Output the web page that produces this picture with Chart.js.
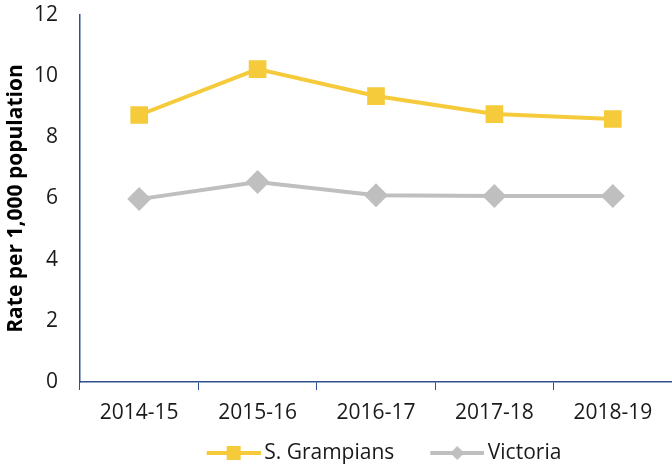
<!DOCTYPE html>
<html>
<head>
<meta charset="utf-8">
<script src="https://cdn.jsdelivr.net/npm/chart.js@4"></script>
<style>
  html, body { margin: 0; padding: 0; background: #fff; }
  .wrap { width: 672px; height: 466px; }
</style>
</head>
<body>
<div class="wrap"><canvas id="rateChart" width="672" height="466"></canvas></div>
<script>
const years = ['2014-15', '2015-16', '2016-17', '2017-18', '2018-19'];
const grampians = [8.73, 10.23, 9.35, 8.76, 8.6];
const victoria = [5.98, 6.54, 6.11, 6.08, 6.08];
const yTicks = [0, 2, 4, 6, 8, 10, 12];

const yellow = '#F5CB3B';
const grey = '#BFBFBF';
const axisBlue = '#2F528F';

// line + marker picture for the legend (drawn on the right part of the canvas)
const iconW = 77;
function legendIcon(color, shape) {
    const c = document.createElement('canvas');
    c.width = iconW; c.height = 20;
    const g = c.getContext('2d');
    g.strokeStyle = color;
    g.lineWidth = 4;
    g.beginPath(); g.moveTo(iconW - 54, 10); g.lineTo(iconW, 10); g.stroke();
    g.fillStyle = color;
    const cx = iconW - 27;
    if (shape === 'square') {
        g.fillRect(cx - 7, 3, 14, 14);
    } else {
        g.beginPath();
        g.moveTo(cx, 3); g.lineTo(cx + 7, 10); g.lineTo(cx, 17); g.lineTo(cx - 7, 10);
        g.closePath(); g.fill();
    }
    return c;
}
const icons = [legendIcon(yellow, 'square'), legendIcon(grey, 'diamond')];

const ctx = document.getElementById('rateChart').getContext('2d');
const rateChart = new Chart(ctx, {
    type: 'line',
    data: {
        labels: years,
        datasets: [{
            label: 'S. Grampians',
            data: grampians,
            borderColor: yellow,
            backgroundColor: yellow,
            borderWidth: 4,
            pointStyle: 'rect',
            pointRadius: 12.5,
            pointBorderWidth: 0,
            tension: 0
        }, {
            label: 'Victoria',
            data: victoria,
            borderColor: grey,
            backgroundColor: grey,
            borderWidth: 4,
            pointStyle: 'rectRot',
            pointRadius: 12,
            pointBorderWidth: 0,
            tension: 0
        }]
    },
    options: {
        responsive: false,
        animation: false,
        layout: { autoPadding: false, padding: { top: 0, right: 0, left: 0, bottom: -7.5 } },
        scales: {
            x: {
                offset: true,
                grid: { display: true, drawOnChartArea: false, color: axisBlue, tickLength: 8, offset: true },
                border: { color: axisBlue, width: 1.5 },
                ticks: { color: '#1a1a1a', font: { family: 'Open Sans', size: 21 }, padding: 10 },
                afterFit: s => { s.height = 40.5; }
            },
            y: {
                min: 0,
                max: 12,
                afterBuildTicks: s => { s.ticks = yTicks.map(v => ({ value: v })); },
                grid: { display: false },
                border: { color: axisBlue, width: 1.5 },
                ticks: { color: '#1a1a1a', font: { family: 'Open Sans', size: 21 }, padding: 14 },
                title: {
                    display: true,
                    text: 'Rate per 1,000 population',
                    color: '#000',
                    font: { family: 'Open Sans', size: 21, weight: 'bold' },
                    padding: { top: 3, bottom: 0 }
                },
                afterFit: s => { s.width = 80; s.paddingTop = 15; s.paddingBottom = 0; }
            }
        },
        plugins: {
            tooltip: { enabled: false },
            legend: {
                position: 'bottom',
                fullSize: false,
                labels: {
                    usePointStyle: true,
                    pointStyleWidth: iconW - 14,
                    padding: 20,
                    color: '#1a1a1a',
                    font: { family: 'Open Sans', size: 21 },
                    generateLabels: chart => Chart.defaults.plugins.legend.labels.generateLabels(chart)
                        .map((item, i) => Object.assign(item, { pointStyle: icons[i] }))
                }
            }
        }
    }
});
</script>
</body>
</html>
